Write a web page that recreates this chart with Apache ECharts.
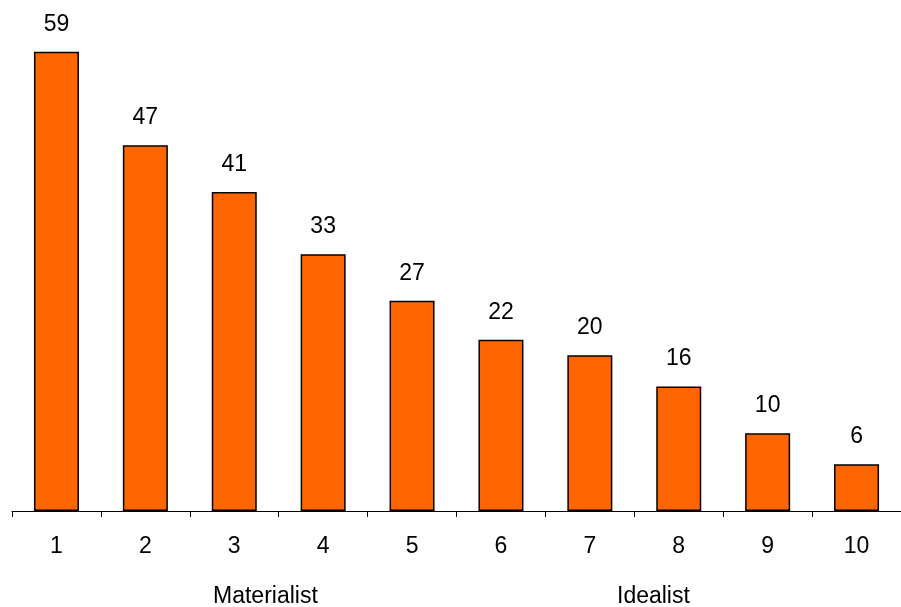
<!DOCTYPE html>
<html><head><meta charset="utf-8">
<script src="https://cdn.jsdelivr.net/npm/echarts@6/dist/echarts.min.js"></script>
<style>html,body{margin:0;padding:0;background:#fff}#c{width:901px;height:607px}</style>
</head><body><div id="c"></div>
<script>
var categories = ['1','2','3','4','5','6','7','8','9','10'];
var values = [59,47,41,33,27,22,20,16,10,6];
var groupLabels = ['Materialist','Idealist'];

var chart = echarts.init(document.getElementById('c'));
var font = 'Liberation Sans, Arial, sans-serif';
chart.setOption({
  animation: false,
  backgroundColor: '#fff',
  grid: {left: 12, right: -3, top: 44, bottom: 96, containLabel: false},
  xAxis: {
    type: 'category', data: categories, boundaryGap: true,
    axisLine: {lineStyle: {color: '#000', width: 1}},
    axisTick: {show: true, length: 6, inside: false, lineStyle: {color: '#000'}},
    axisLabel: {color: '#000', fontSize: 23, fontFamily: font, margin: 24}
  },
  yAxis: {type: 'value', min: 0, max: 60, show: false, splitLine: {show: false}},
  series: [{
    type: 'bar', data: values, barWidth: 45,
    itemStyle: {color: '#FF6600', borderColor: '#000', borderWidth: 1.5},
    label: {show: true, position: 'top', distance: 16, color: '#000', fontSize: 23, fontFamily: font}
  }],
  graphic: [
    {type: 'text', left: 213, top: 585, style: {text: groupLabels[0], fontSize: 23, fontFamily: font, fill: '#000'}},
    {type: 'text', left: 617, top: 585, style: {text: groupLabels[1], fontSize: 23, fontFamily: font, fill: '#000'}}
  ]
});
</script></body></html>
